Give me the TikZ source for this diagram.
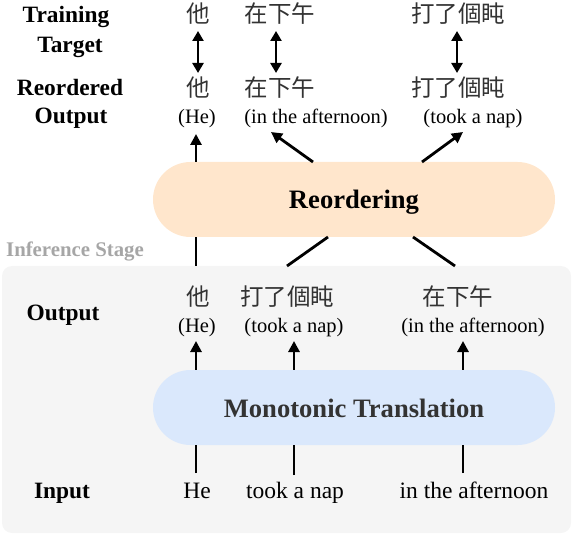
\documentclass[tikz,border=0pt]{standalone}
\usepackage{fontspec}
\setmainfont{Liberation Serif}
\newfontfamily\cjk{Noto Sans CJK TC}
\usetikzlibrary{arrows.meta}
\definecolor{bggray}{HTML}{F5F5F5}
\definecolor{peach}{HTML}{FFE6CC}
\definecolor{lblue}{HTML}{DAE8FC}
\definecolor{stagegray}{HTML}{A6A6A6}
\definecolor{mtgray}{HTML}{333333}
\begin{document}
\begin{tikzpicture}[x=1pt,y=-1pt,
  lbl/.style={font=\fontsize{23.4}{26}\selectfont\bfseries, anchor=base, inner sep=0},
  en/.style={font=\fontsize{23.5}{26}\selectfont, anchor=base, inner sep=0},
  enp/.style={font=\fontsize{20.5}{24}\selectfont, anchor=base, inner sep=0},
  zh/.style={font=\fontsize{23.5}{26}\cjk, text=black!80, anchor=center, inner sep=0},
  pill/.style={minimum width=402pt, minimum height=75pt, rounded corners=37.5pt, inner sep=0},
  pilltext/.style={font=\fontsize{26.6}{30}\selectfont\bfseries, anchor=base, inner sep=0},
  arr/.style={line width=2.8pt, -{Triangle[length=11pt,width=11pt]}},
  darr/.style={line width=2.8pt, {Triangle[length=10pt,width=11pt]}-{Triangle[length=10pt,width=11pt]}},
  ln/.style={line width=2.8pt}]
\useasboundingbox (0,0) rectangle (572,534);
% background of inference stage
\fill[bggray, rounded corners=10pt] (2,266) rectangle (571,533);
\node[font=\fontsize{20.8}{24}\selectfont\bfseries, text=stagegray, anchor=base, inner sep=0] (stage) at (75,257) {Inference Stage};

% coordinates of connector ends
\coordinate (p1) at (196,473); \coordinate (p2) at (294,475); \coordinate (p3) at (463,473);
\coordinate (a1) at (196,341); \coordinate (a2) at (294,341); \coordinate (a3) at (463,341);
\coordinate (b1) at (196,266); \coordinate (b2) at (287,266); \coordinate (b3) at (455,266);
\coordinate (c2) at (328,237); \coordinate (c3) at (413,237);
\coordinate (e2) at (313,162); \coordinate (e3) at (422,162);
\coordinate (d1) at (196,134); \coordinate (d2) at (271,132); \coordinate (d3) at (463,132);
\coordinate (f1) at (198,31); \coordinate (g1) at (198,73);
\coordinate (f2) at (276,31); \coordinate (g2) at (276,73);
\coordinate (f3) at (457,31); \coordinate (g3) at (457,73);

% boxes
\node[pill, fill=peach] (reo) at (354,199.5) {};
\node[pill, fill=lblue] (mt) at (354,407.5) {};
\node[pilltext] (reot) at ([yshift=-9.5pt]reo.center) {Reordering};
\node[pilltext, text=mtgray] (mtt) at ([yshift=-9.5pt]mt.center) {Monotonic Translation};

% connectors
\draw[ln] (p1) -- (p1 |- mt.south);
\draw[ln] (p2) -- (p2 |- mt.south);
\draw[ln] (p3) -- (p3 |- mt.south);
\draw[arr] (mt.north -| a1) -- (a1);
\draw[arr] (mt.north -| a2) -- (a2);
\draw[arr] (mt.north -| a3) -- (a3);
\draw[ln] (b1) -- (b1 |- reo.south);
\draw[ln] (b2) -- (c2);
\draw[ln] (b3) -- (c3);
\draw[arr] (reo.north -| d1) -- (d1);
\draw[arr] (e2) -- (d2);
\draw[arr] (e3) -- (d3);
\draw[darr] (f1) -- (g1);
\draw[darr] (f2) -- (g2);
\draw[darr] (f3) -- (g3);

% left labels
\node[lbl] (lt1) at (66,23) {Training};
\node[lbl] (lt2) at (70,53) {Target};
\node[lbl] (lr1) at (70,96) {Reordered};
\node[lbl] (lr2) at (71,124) {Output};
\node[lbl] (lo) at (63,320) {Output};
\node[lbl] (li) at (62,498) {Input};

% training target
\node[zh] (t1) at (198,14) {他};
\node[zh] (t2) at (280,14) {在下午};
\node[zh] (t3) at (458,14) {打了個盹};
% reordered output
\node[zh] (r1) at (198,88) {他};
\node[zh] (r2) at (280,88) {在下午};
\node[zh] (r3) at (458,88) {打了個盹};
\node[enp] (r1e) at (197,124) {(He)};
\node[enp] (r2e) at (316,124) {(in the afternoon)};
\node[enp] (r3e) at (473,124) {(took a nap)};
% output
\node[zh] (o1) at (198,297) {他};
\node[zh] (o2) at (287,297) {打了個盹};
\node[zh] (o3) at (458,297) {在下午};
\node[enp] (o1e) at (197,332) {(He)};
\node[enp] (o2e) at (294,332) {(took a nap)};
\node[enp] (o3e) at (473,332) {(in the afternoon)};
% input
\node[en] (i1) at (197,498) {He};
\node[en] (i2) at (295,498) {took a nap};
\node[en] (i3) at (474,498) {in the afternoon};
\end{tikzpicture}
\end{document}
